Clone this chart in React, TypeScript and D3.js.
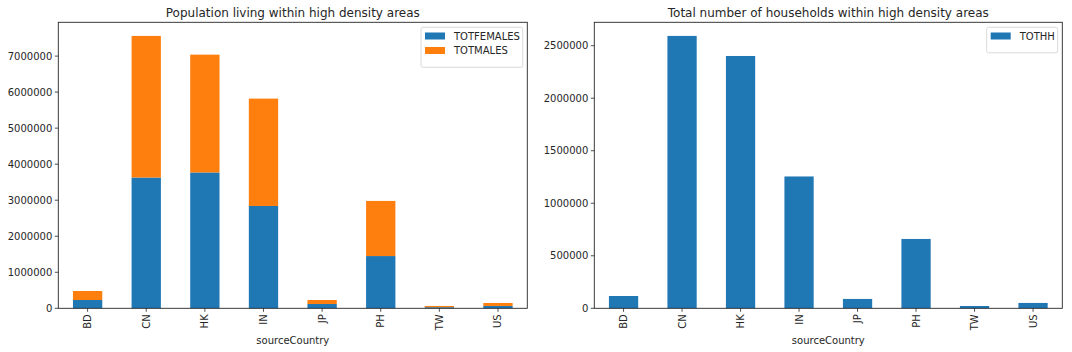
import React from "react";
import * as d3 from "d3";

const categories = ["BD", "CN", "HK", "IN", "JP", "PH", "TW", "US"];
const totFemales = [230000, 3630000, 3770000, 2840000, 120000, 1450000, 30000, 65000];
const totMales = [250000, 3930000, 3270000, 2980000, 110000, 1530000, 35000, 83000];
const totHH = [117000, 2593000, 2402000, 1255000, 89000, 660000, 22000, 51000];
const leftTicks = [0, 1000000, 2000000, 3000000, 4000000, 5000000, 6000000, 7000000];
const rightTicks = [0, 500000, 1000000, 1500000, 2000000, 2500000];

const BLUE = "#1f77b4";
const ORANGE = "#ff7f0e";
const FONT = "DejaVu Sans, sans-serif";
const TXT = "#262626";

type Panel = {
  x0: number;
  x1: number;
  title: string;
  ticks: number[];
  ymax: number;
  stacks: { name: string; color: string; values: number[] }[];
  legendW: number;
};

const top = 22.3;
const bottom = 308.3;

function PanelView({ p }: { p: Panel }) {
  const x = d3.scaleBand<string>().domain(categories).range([p.x0, p.x1]).paddingInner(0.5).paddingOuter(0.25);
  const y = d3.scaleLinear().domain([0, p.ymax]).range([bottom, top]);
  const bw = x.bandwidth();
  const cum = categories.map(() => 0);
  const rects: JSX.Element[] = [];
  p.stacks.forEach((s, si) => {
    s.values.forEach((v, i) => {
      const b = cum[i];
      const t = b + v;
      cum[i] = t;
      rects.push(
        <rect key={`${si}-${i}`} x={x(categories[i])!} width={bw} y={y(t)} height={y(b) - y(t)} fill={s.color} />
      );
    });
  });
  const lx = p.x1 - 4.6 - p.legendW;
  const lh = 8 + p.stacks.length * 14.5 + 3;
  return (
    <g>
      {rects}
      <rect x={p.x0} y={top} width={p.x1 - p.x0} height={bottom - top} fill="none" stroke="#262626" strokeWidth={0.9} />
      {p.ticks.map((t) => (
        <g key={t}>
          <line x1={p.x0 - 3.5} x2={p.x0} y1={y(t)} y2={y(t)} stroke="#262626" strokeWidth={0.8} />
          <text x={p.x0 - 6} y={y(t)} dy="0.35em" textAnchor="end" fontSize={10} fontFamily={FONT} fill={TXT}>
            {t}
          </text>
        </g>
      ))}
      {categories.map((c) => {
        const cx = x(c)! + bw / 2;
        return (
          <g key={c}>
            <line x1={cx} x2={cx} y1={bottom} y2={bottom + 3.5} stroke="#262626" strokeWidth={0.8} />
            <text
              transform={`translate(${cx},${bottom + 6}) rotate(-90)`}
              dy="0.35em"
              textAnchor="end"
              fontSize={10}
              fontFamily={FONT}
              fill={TXT}
            >
              {c}
            </text>
          </g>
        );
      })}
      <text x={(p.x0 + p.x1) / 2} y={344} textAnchor="middle" fontSize={10} fontFamily={FONT} fill={TXT}>
        sourceCountry
      </text>
      <text x={(p.x0 + p.x1) / 2} y={17} textAnchor="middle" fontSize={12} fontFamily={FONT} fill={TXT}>
        {p.title}
      </text>
      <rect x={lx} y={27.3} width={p.legendW} height={lh} rx={2} fill="#fff" fillOpacity={0.8} stroke="#d0d0d0" strokeWidth={0.8} />
      {p.stacks.map((s, i) => (
        <g key={s.name}>
          <rect x={lx + 4} y={32.5 + i * 14.5} width={20} height={7} fill={s.color} />
          <text x={lx + 33} y={36 + i * 14.5} dy="0.35em" fontSize={10} fontFamily={FONT} fill={TXT}>
            {s.name}
          </text>
        </g>
      ))}
    </g>
  );
}

export default function App() {
  const panels: Panel[] = [
    {
      x0: 58.3,
      x1: 527.3,
      title: "Population living within high density areas",
      ticks: leftTicks,
      ymax: d3.max(categories.map((_, i) => totFemales[i] + totMales[i]))! * 1.05,
      stacks: [
        { name: "TOTFEMALES", color: BLUE, values: totFemales },
        { name: "TOTMALES", color: ORANGE, values: totMales },
      ],
      legendW: 101.7,
    },
    {
      x0: 594.3,
      x1: 1062.3,
      title: "Total number of households within high density areas",
      ticks: rightTicks,
      ymax: d3.max(totHH)! * 1.05,
      stacks: [{ name: "TOTHH", color: BLUE, values: totHH }],
      legendW: 71,
    },
  ];
  return (
    <svg width={1072} height={352} style={{ position: "absolute", left: 0, top: 0, background: "#fff" }}>
      <rect width={1072} height={352} fill="#fff" />
      {panels.map((p, i) => (
        <PanelView key={i} p={p} />
      ))}
    </svg>
  );
}
